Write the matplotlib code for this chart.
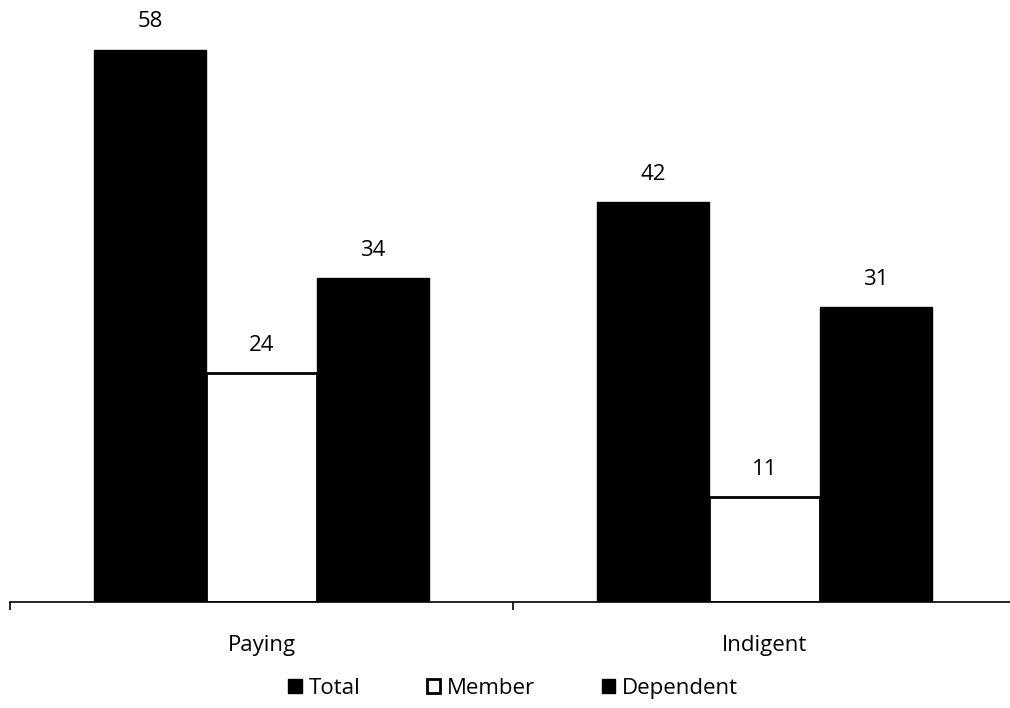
import numpy as np
import matplotlib.pyplot as plt

categories = ['Paying', 'Indigent']
total = [58, 42]
member = [24, 11]
dependent = [34, 31]

plt.rcParams['font.family'] = ['Open Sans', 'DejaVu Sans']

fig = plt.figure(figsize=(10.1, 7.08), dpi=100)
ax = fig.add_axes([10 / 1010, 1 - 602 / 708, 1006 / 1010, 602 / 708])

x = np.arange(len(categories))
w = 0.222
b1 = ax.bar(x - w, total, w, color='black', edgecolor='black', linewidth=1)
b2 = ax.bar(x, member, w, color='white', edgecolor='black', linewidth=2)
b3 = ax.bar(x + w, dependent, w, color='black', edgecolor='black', linewidth=1)

for bars in (b1, b2, b3):
    for r in bars:
        ax.text(r.get_x() + r.get_width() / 2, r.get_height() + 1.8, f'{r.get_height():g}',
                ha='center', va='bottom', fontsize=16)

ax.set_xlim(-0.5, 1.5)
ax.set_ylim(0, 63.2)
for s in ['top', 'right', 'left']:
    ax.spines[s].set_visible(False)
ax.spines['bottom'].set_linewidth(1.2)
ax.set_yticks([])
ax.set_xticks(x)
ax.set_xticklabels(categories, fontsize=16)
ax.tick_params(axis='x', which='major', length=0, pad=24)
ax.set_xticks([-0.5, 0.5, 1.5], minor=True)
ax.tick_params(axis='x', which='minor', length=6, width=1.2, direction='out')

ax.legend([b1, b2, b3], ['Total', 'Member', 'Dependent'], loc='upper center',
          bbox_to_anchor=(0.5, -0.1), ncol=3, frameon=False, fontsize=16,
          handlelength=0.6, handleheight=0.6, handletextpad=0.3, columnspacing=3.0,
          borderpad=0.2)

fig.savefig('out.png', dpi=100)
